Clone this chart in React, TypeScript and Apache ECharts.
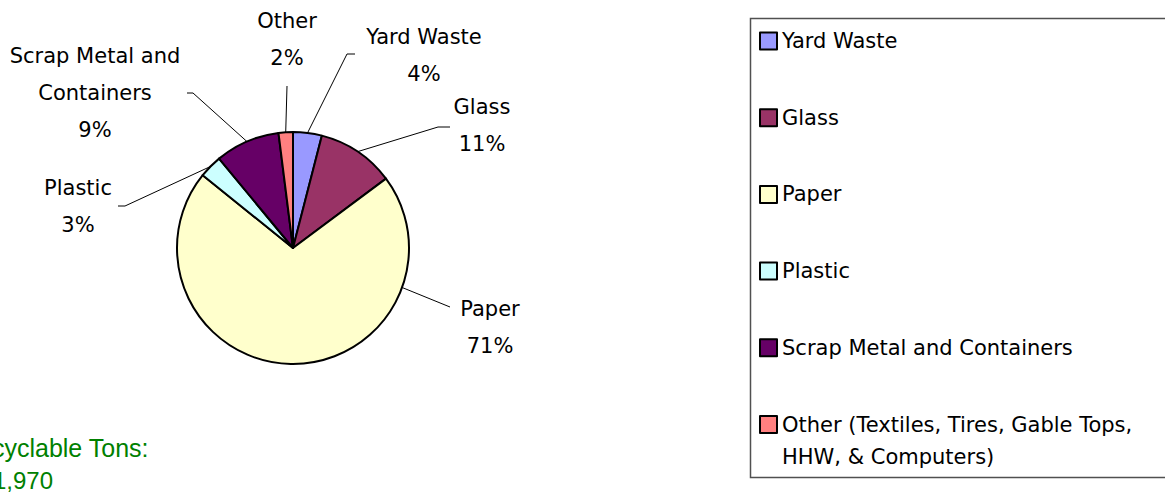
import React, { useEffect, useRef } from "react";
import * as echarts from "echarts";

const categories = [
  "Yard Waste",
  "Glass",
  "Paper",
  "Plastic",
  "Scrap Metal and Containers",
  "Other (Textiles, Tires, Gable Tops, HHW, & Computers)",
];
const values = [4.0, 10.8, 71.0, 3.2, 9.0, 2.0];
const sliceLabels = ["Yard Waste", "Glass", "Paper", "Plastic", "Scrap Metal and\nContainers", "Other"];
const legendLabels = [
  "Yard Waste",
  "Glass",
  "Paper",
  "Plastic",
  "Scrap Metal and Containers",
  "{p| }\n{t|Other (Textiles, Tires, Gable Tops,}\n{t|HHW, & Computers)}",
];
const colors = ["#9999FF", "#993366", "#FFFFCC", "#CCFFFF", "#660066", "#FF8080"];
const totalLines = ["Total Recyclable Tons:", "51,970"];

const FONT = "'Comic Sans MS', 'DejaVu Sans', sans-serif";

// label anchor (center of text block) and leader-line elbows
const labelPos: Record<number, { x: number; y: number; pts: number[][]; start?: number[] }> = {
  0: { x: 424, y: 55, pts: [[347, 54], [355, 54]] },
  1: { x: 482, y: 125, pts: [[438, 127], [450, 127]] },
  2: { x: 490, y: 327, start: [396, 285], pts: [[423, 296], [450, 307]] },
  3: { x: 78, y: 206, pts: [[125, 206], [118, 206]] },
  4: { x: 95, y: 93, pts: [[193, 93], [187, 93]] },
  5: { x: 287, y: 39, pts: [[287, 86], [287, 86]] },
};

export default function App() {
  const ref = useRef<HTMLDivElement>(null);
  useEffect(() => {
    if (!ref.current) return;
    const chart = echarts.init(ref.current, null, { renderer: "svg" });
    const data = categories.map((name, i) => ({
      name,
      value: values[i],
      itemStyle: { color: colors[i] },
    }));
    const richText = { fontFamily: FONT, fontSize: 21, color: "#000", lineHeight: 32 };
    chart.setOption({
      animation: false,
      backgroundColor: "#ffffff",
      legend: [
        {
          orient: "vertical",
          left: 759,
          top: 29,
          padding: 0,
          itemGap: 52.7,
          itemWidth: 17,
          itemHeight: 17,
          icon: "rect",
          selectedMode: false,
          data: categories.slice(0, 5),
          formatter: (name: string) => legendLabels[categories.indexOf(name)],
          itemStyle: { borderColor: "#000", borderWidth: 2 },
          textStyle: { fontFamily: FONT, fontSize: 21, color: "#000", lineHeight: 24 },
        },
        {
          orient: "vertical",
          left: 759,
          top: 424.5 - 48,
          padding: 0,
          itemWidth: 17,
          itemHeight: 17,
          icon: "rect",
          selectedMode: false,
          data: categories.slice(5),
          formatter: (name: string) => legendLabels[categories.indexOf(name)],
          itemStyle: { borderColor: "#000", borderWidth: 2 },
          textStyle: {
            fontFamily: FONT,
            fontSize: 21,
            color: "#000",
            lineHeight: 32,
            rich: { p: richText, t: richText },
          },
        },
      ],
      graphic: [
        {
          type: "rect",
          z: -1,
          shape: { x: 750.5, y: 18.5, width: 440, height: 459 },
          style: { fill: "none", stroke: "#505050", lineWidth: 1.5 },
        },
        {
          type: "text",
          x: 148.5,
          y: 448,
          style: {
            text: totalLines[0],
            align: "right",
            verticalAlign: "middle",
            fontSize: 25,
            fontFamily: "'Liberation Sans', Arial, sans-serif",
            fill: "#008000",
          },
        },
        {
          type: "text",
          x: 53,
          y: 480,
          style: {
            text: totalLines[1],
            align: "right",
            verticalAlign: "middle",
            fontSize: 24,
            fontFamily: "'Liberation Sans', Arial, sans-serif",
            fill: "#008000",
          },
        },
      ],
      series: [
        {
          type: "pie",
          center: [293, 248],
          radius: 116,
          startAngle: 90,
          clockwise: true,
          percentPrecision: 0,
          avoidLabelOverlap: false,
          data,
          itemStyle: { borderColor: "#000", borderWidth: 2 },
          label: {
            show: true,
            position: "outside",
            formatter: (p: any) => sliceLabels[p.dataIndex] + "\n" + p.percent + "%",
            fontFamily: FONT,
            fontSize: 21,
            lineHeight: 37,
            color: "#000",
            align: "center",
          },
          labelLine: {
            show: true,
            length: 10,
            length2: 10,
            lineStyle: { color: "#000", width: 1 },
          },
          labelLayout: (params: any) => {
            const lp = labelPos[params.dataIndex];
            if (!lp) return {};
            const start =
              lp.start ||
              (params.labelLinePoints && params.labelLinePoints[0]) || lp.pts[0];
            return {
              x: lp.x,
              y: lp.y,
              align: "center",
              verticalAlign: "middle",
              labelLinePoints: [start, lp.pts[0], lp.pts[1]],
            };
          },
          emphasis: { disabled: true },
        },
      ],
    });
    return () => chart.dispose();
  }, []);
  return (
    <div
      ref={ref}
      style={{ position: "fixed", left: 0, top: 0, width: 1165, height: 493 }}
    />
  );
}
